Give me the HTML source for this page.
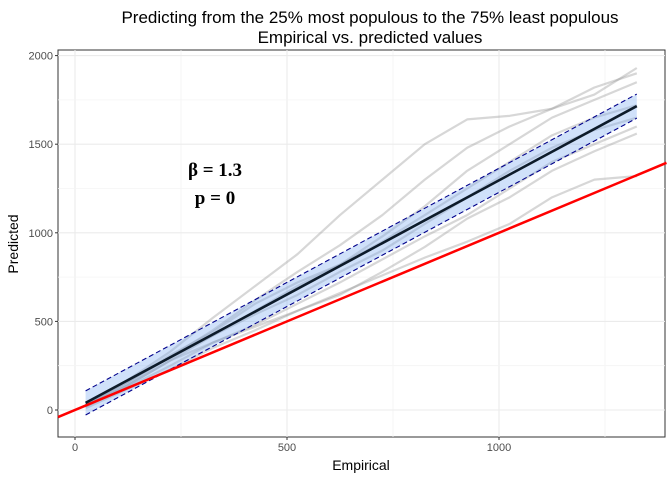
<!DOCTYPE html>
<html><head><meta charset="utf-8"><style>
body{margin:0;background:#fff;font-family:"Liberation Sans",sans-serif}
svg text{font-family:"Liberation Sans",sans-serif}
</style></head><body>
<svg id="chart" width="672" height="480">
<text x="370" y="23" text-anchor="middle" font-size="17">Predicting from the 25% most populous to the 75% least populous</text>
<text x="370" y="43" text-anchor="middle" font-size="17">Empirical vs. predicted values</text>
<rect x="58" y="50" width="607" height="387" fill="#fff" stroke="#333" stroke-width="1"/>
<g id="grid"></g><g id="gray"></g><g id="fit"></g>
<text x="215" y="176" text-anchor="middle" font-size="19" font-weight="bold" style="font-family:'Liberation Serif',serif">β = 1.3</text>
<text x="215" y="204" text-anchor="middle" font-size="19" font-weight="bold" style="font-family:'Liberation Serif',serif">p = 0</text>
<g id="axes"></g>
<text x="361" y="470" text-anchor="middle" font-size="14">Empirical</text>
<text transform="translate(18,244) rotate(-90)" text-anchor="middle" font-size="14">Predicted</text>
</svg>
<script>
const xTicks=[0,500,1000];
const yTicks=[0,500,1000,1500,2000];
const xs=[25,125,225,325,425,525,625,725,825,925,1025,1125,1225,1325];
const s1=[30,170,330,520,700,880,1100,1300,1500,1640,1660,1700,1780,1930];
const s2=[40,160,300,450,620,780,930,1100,1300,1480,1600,1700,1820,1900];
const s3=[20,140,280,420,560,700,820,980,1150,1350,1500,1650,1750,1850];
const s4=[30,150,300,420,540,650,780,900,1050,1200,1350,1480,1580,1650];
const s5=[20,130,250,380,480,600,720,850,980,1100,1250,1400,1500,1600];
const s6=[10,120,230,350,450,560,660,760,860,950,1050,1200,1300,1320];
const s7=[25,140,280,380,470,560,650,780,920,1080,1200,1350,1460,1560];
const s8=[30,160,310,440,600,720,820,950,1100,1250,1400,1550,1650,1720];
const fitX=[25,1325];
const fitY=[40,1715];
const band=68;
const refX=[-40,1395];
const NS="http://www.w3.org/2000/svg";
const X=v=>75+v*0.424, Y=v=>410-v*0.1772;
const L=58,R=665,T=50,B=437;
function mk(tag,attrs,parent){const e=document.createElementNS(NS,tag);for(const k in attrs)e.setAttribute(k,attrs[k]);document.getElementById(parent).appendChild(e);return e;}
xTicks.forEach((t,i)=>{
 const g=mk('line',{x1:X(t),x2:X(t),y1:T,y2:B,stroke:'#ebebeb','stroke-width':1.1},'grid');
 
 
 if(i<xTicks.length-1){const m=mk('line',{x1:X(t+250),x2:X(t+250),y1:T,y2:B,stroke:'#f4f4f4','stroke-width':0.8},'grid');
 
 }
 const tk=mk('line',{x1:X(t),x2:X(t),y1:B,y2:B+3,stroke:'#333'},'axes');
 
 
 const tx=mk('text',{x:X(t),y:B+14,'text-anchor':'middle','font-size':11,fill:'#4d4d4d'},'axes');
 tx.textContent=t;
 
 
});
mk('line',{x1:X(1250),x2:X(1250),y1:T,y2:B,stroke:'#f4f4f4','stroke-width':0.8},'grid');
yTicks.forEach((t,i)=>{
 const g=mk('line',{x1:L,x2:R,y1:Y(t),y2:Y(t),stroke:'#ebebeb','stroke-width':1.1},'grid');
 
 
 if(i<yTicks.length-1){const m=mk('line',{x1:L,x2:R,y1:Y(t+250),y2:Y(t+250),stroke:'#f4f4f4','stroke-width':0.8},'grid');
 
 }
 const tk=mk('line',{x1:L-3,x2:L,y1:Y(t),y2:Y(t),stroke:'#333'},'axes');
 
 
 const tx=mk('text',{x:L-5,y:Y(t)+4,'text-anchor':'end','font-size':11,fill:'#4d4d4d'},'axes');
 tx.textContent=t;
 
 
});
mk('line',{x1:X(-250),x2:X(-250),y1:T,y2:B,stroke:'#f4f4f4'},'grid');
[s1,s2,s3,s4,s5,s6,s7,s8].forEach(s=>{
 const pts=xs.map((x,i)=>X(x)+','+Y(s[i])).join(' ');
 const p=mk('polyline',{points:pts,fill:'none',stroke:'rgba(140,140,140,0.35)','stroke-width':2.2,'stroke-linejoin':'round'},'gray');
 
 
});
const slope=(fitY[1]-fitY[0])/(fitX[1]-fitX[0]);
const F=x=>fitY[0]+slope*(x-fitX[0]);
const bd=mk('polygon',{points:`${X(fitX[0])},${Y(F(fitX[0])+band)} ${X(fitX[1])},${Y(F(fitX[1])+band)} ${X(fitX[1])},${Y(F(fitX[1])-band)} ${X(fitX[0])},${Y(F(fitX[0])-band)}`,fill:'rgba(120,170,240,0.35)'},'fit');


[band,-band].forEach(o=>{
 const l=mk('line',{x1:X(fitX[0]),y1:Y(F(fitX[0])+o),x2:X(fitX[1]),y2:Y(F(fitX[1])+o),stroke:'#00008b','stroke-width':1.1,'stroke-dasharray':'5,3'},'fit');
 
 
});
const rl=mk('line',{x1:X(refX[0]),y1:Y(refX[0]),x2:X(refX[1]),y2:Y(refX[1]),stroke:'#ff0000','stroke-width':2.5},'fit');


const fl=mk('line',{x1:X(fitX[0]),y1:Y(fitY[0]),x2:X(fitX[1]),y2:Y(fitY[1]),stroke:'#0d1b2a','stroke-width':2.6},'fit');


</script>
</body></html>
